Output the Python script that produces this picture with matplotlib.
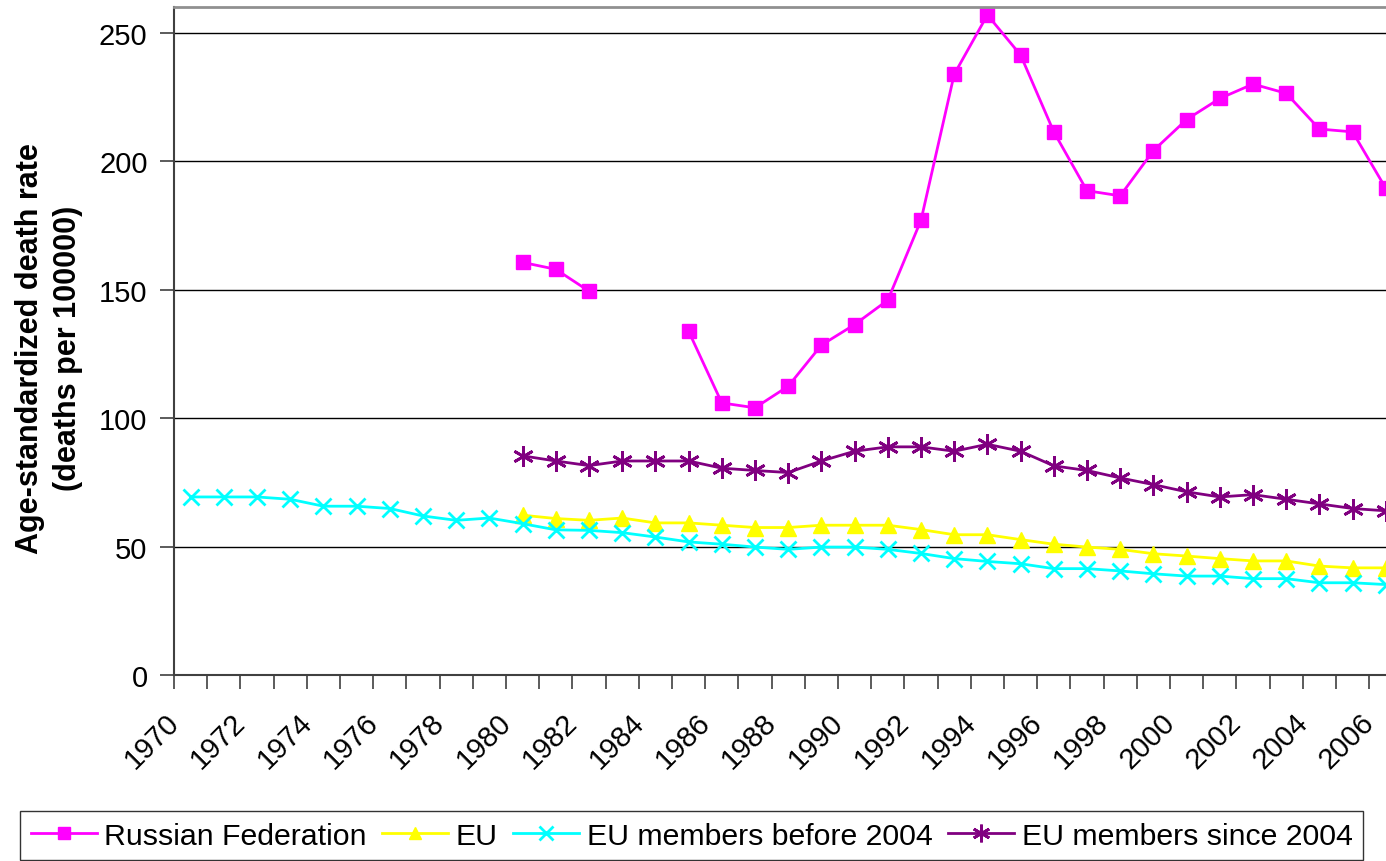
import numpy as np
import matplotlib.pyplot as plt
import matplotlib.transforms as mtransforms

plt.rcParams['font.family'] = ['Liberation Sans', 'DejaVu Sans']

years = list(range(1970, 2007))

# Russian Federation (starts 1980, gap 1983-1984)
russia = [160.6, 157.9, 149.4, np.nan, np.nan, 133.8, 105.9, 104.0, 112.4, 128.4,
          136.4, 145.9, 177.0, 233.8, 256.9, 241.3, 211.4, 188.5, 186.5, 204.1,
          216.2, 224.4, 230.0, 226.4, 212.5, 211.4, 189.4]
# EU (starts 1980)
eu = [62.2, 60.9, 60.2, 61.1, 59.2, 59.2, 58.3, 57.4, 57.4, 58.3,
      58.3, 58.3, 56.6, 54.6, 54.6, 52.7, 50.9, 49.8, 48.9, 47.2,
      46.3, 45.3, 44.4, 44.4, 42.4, 41.7, 41.7]
# EU members before 2004 (from 1970)
eu_before = [69.3, 69.3, 69.3, 68.4, 65.7, 65.7, 64.8, 61.9, 60.2, 61.1,
             58.9, 56.5, 56.3, 55.4, 53.7, 51.8, 50.9, 49.8, 48.9, 49.8,
             49.8, 48.9, 47.3, 45.3, 44.2, 43.3, 41.4, 41.4, 40.5, 39.4,
             38.5, 38.5, 37.5, 37.5, 35.9, 35.9, 35.2]
# EU members since 2004 (starts 1980)
eu_since = [85.3, 83.3, 81.5, 83.3, 83.3, 83.3, 80.5, 79.6, 78.8, 83.3,
            87.1, 88.8, 88.8, 87.1, 89.8, 87.1, 81.4, 79.6, 76.7, 74.1,
            71.3, 69.3, 70.2, 68.4, 66.6, 64.8, 63.9]

x_all = np.arange(len(years))
x_1980 = x_all[10:]

fig = plt.figure(figsize=(13.86, 8.62), dpi=100)
# plot area runs past the right edge, like the cropped original
ax = fig.add_axes([174/1386, 1 - 676/862, (37*33.2)/1386, (676 - 8)/862])

ax.plot(x_1980, russia, color='#FF00FF', lw=2, marker='s', ms=10, label='Russian Federation')
ax.plot(x_1980, eu, color='#FFFF00', lw=2, marker='^', ms=11, label='EU')
ax.plot(x_all, eu_before, color='#00FFFF', lw=2, marker='x', ms=12, mew=2, label='EU members before 2004')
ax.plot(x_1980, eu_since, color='#800080', lw=2, marker=(6, 2, 0), ms=15, mew=2,
        label='EU members since 2004')

ax.set_xlim(-0.5, len(years) - 0.5)
ax.set_ylim(0, 260)
ax.set_yticks([0, 50, 100, 150, 200, 250])
ax.yaxis.grid(True, color='black', lw=1)
ax.set_axisbelow(True)

ax.set_xticks(np.arange(-0.5, len(years), 1), minor=True)
ax.set_xticks(x_all[::2])
ax.set_xticklabels([str(y) for y in years[::2]], rotation=45, ha='right',
                   va='center', rotation_mode='anchor', fontsize=21)
ax.tick_params(axis='x', which='major', length=0, pad=31)
ax.tick_params(axis='x', which='minor', length=10, width=1.2, color='#404040')
ax.tick_params(axis='y', length=10, width=1.2, color='#404040', labelsize=21, pad=9)
offset = mtransforms.ScaledTranslation(-16/100, 0, fig.dpi_scale_trans)
for lab in ax.get_xticklabels():
    lab.set_transform(lab.get_transform() + offset)

for s in ['left', 'bottom']:
    ax.spines[s].set_color('#404040')
    ax.spines[s].set_linewidth(1.5)
ax.spines['top'].set_color('#909090')
ax.spines['top'].set_linewidth(2)
ax.spines['right'].set_visible(False)

ax.set_ylabel('Age-standardized death rate\n(deaths per 100000)', fontsize=22,
              fontweight='bold', linespacing=1.35)
ax.yaxis.set_label_coords(-0.074, 0.49)

leg = fig.legend(loc='upper left', bbox_to_anchor=(20/1386, 1 - 812/862), ncol=4,
                 fontsize=21.8, frameon=True, fancybox=False, edgecolor='black',
                 handlelength=2.18, handletextpad=0.26, columnspacing=0.5,
                 borderpad=0.35, borderaxespad=0, markerscale=0.85)
leg.get_frame().set_linewidth(1)

fig.savefig('out.png', dpi=100)
